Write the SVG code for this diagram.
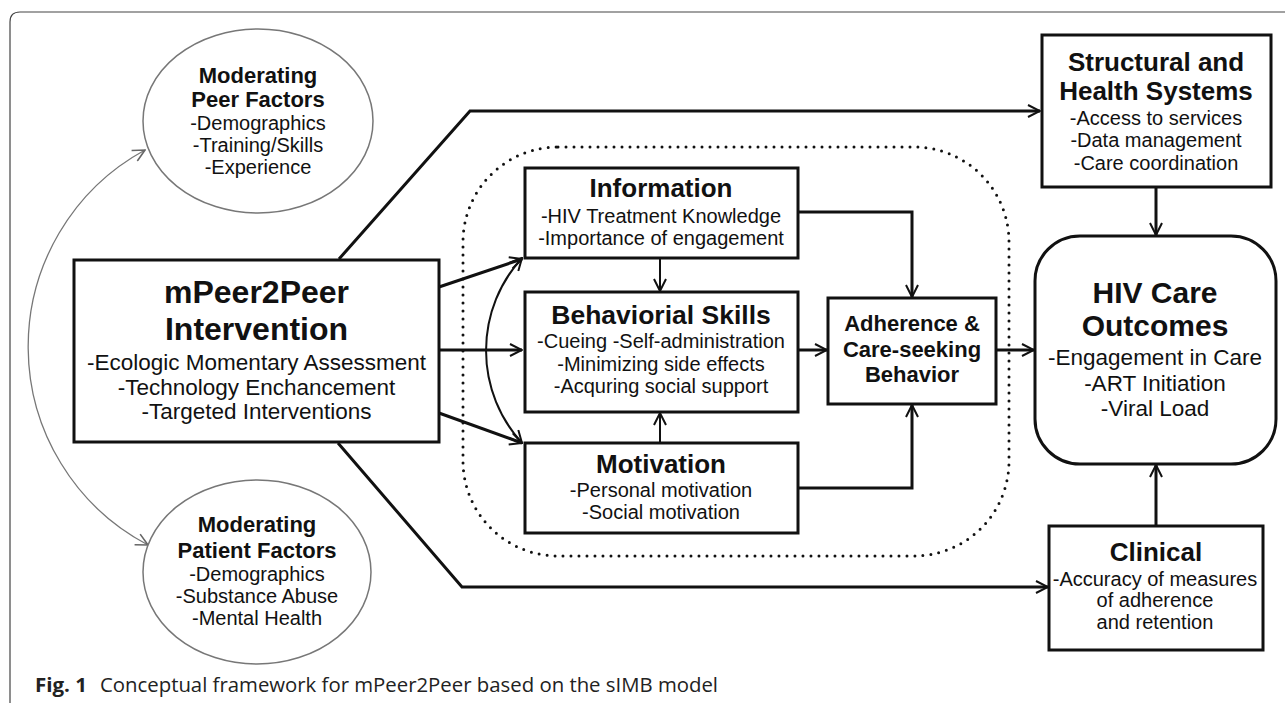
<svg xmlns="http://www.w3.org/2000/svg" width="1285" height="703" viewBox="0 0 1285 703">
<style>
text{font-family:"Liberation Sans",Arial,sans-serif;text-anchor:middle;fill:#111}
.b{font-weight:bold}
.box{fill:#fff;stroke:#111;stroke-width:3}
.ell{fill:#fff;stroke:#777;stroke-width:1.5}
.ln{fill:none;stroke:#111;stroke-width:3}
.th{fill:none;stroke:#111;stroke-width:2}
.cap{font-family:"Open Sans","Noto Sans",sans-serif;text-anchor:start;fill:#222}
</style>
<defs>
<marker id="arr" viewBox="0 0 14 14" refX="13" refY="7" markerWidth="14" markerHeight="14" markerUnits="userSpaceOnUse" orient="auto-start-reverse">
<path d="M1,1 L13,7 L1,13" fill="none" stroke="#111" stroke-width="2"/>
</marker>
<marker id="arrg" viewBox="0 0 14 14" refX="13" refY="7" markerWidth="14" markerHeight="14" markerUnits="userSpaceOnUse" orient="auto-start-reverse">
<path d="M1,1 L13,7 L1,13" fill="none" stroke="#666" stroke-width="1.6"/>
</marker>
</defs>
<rect width="1285" height="703" fill="#fff"/>
<path d="M10,703 L10,22 Q10,12 20,12 L1285,12" fill="none" stroke="#444" stroke-width="1.2"/>

<g id="connectors">
<path d="M145,150 A224,224 0 0 0 148,545" fill="none" stroke="#777" stroke-width="1.3" marker-start="url(#arrg)" marker-end="url(#arrg)"/>
<path d="M522,258 A137,137 0 0 0 522,443" class="th" marker-start="url(#arr)" marker-end="url(#arr)"/>
<path d="M339,259 L470,111 L1040,111" class="ln" marker-end="url(#arr)"/>
<path d="M338,443 L462,587 L1048,587" class="ln" marker-end="url(#arr)"/>
<path d="M439,287 L522,259" class="ln" marker-end="url(#arr)"/>
<path d="M439,350 L522,350" class="ln" marker-end="url(#arr)"/>
<path d="M439,413 L522,443" class="ln" marker-end="url(#arr)"/>
<path d="M660,258 L660,291" class="th" marker-end="url(#arr)"/>
<path d="M660,443 L660,413" class="th" marker-end="url(#arr)"/>
<path d="M798,212 L912,212 L912,297" class="ln" marker-end="url(#arr)"/>
<path d="M798,488 L912,488 L912,405" class="ln" marker-end="url(#arr)"/>
<path d="M798,350 L827,350" class="ln" marker-end="url(#arr)"/>
<path d="M996,350 L1034,350" class="ln" marker-end="url(#arr)"/>
<path d="M1156,187 L1156,235" class="ln" marker-end="url(#arr)"/>
<path d="M1156,526 L1156,465" class="ln" marker-end="url(#arr)"/>
</g>

<g id="iframe">
<rect x="463" y="147" width="546" height="409" rx="95" fill="none" stroke="#111" stroke-width="3" stroke-dasharray="0 8" stroke-linecap="round"/>
</g>

<g id="peer">
<ellipse cx="258" cy="121" rx="115" ry="92" class="ell"/>
<text x="258" y="83" class="b" font-size="22">Moderating</text>
<text x="258" y="107" class="b" font-size="22">Peer Factors</text>
<text x="258" y="130" font-size="20">-Demographics</text>
<text x="258" y="152" font-size="20">-Training/Skills</text>
<text x="258" y="174" font-size="20">-Experience</text>
</g>

<g id="patient">
<ellipse cx="257" cy="572" rx="114" ry="92" class="ell"/>
<text x="257" y="532" class="b" font-size="22">Moderating</text>
<text x="257" y="558" class="b" font-size="22">Patient Factors</text>
<text x="257" y="581" font-size="20">-Demographics</text>
<text x="257" y="603" font-size="20">-Substance Abuse</text>
<text x="257" y="625" font-size="20">-Mental Health</text>
</g>

<g id="mpeer">
<rect x="74" y="260" width="365" height="182" class="box"/>
<text x="256.5" y="303" class="b" font-size="32">mPeer2Peer</text>
<text x="256.5" y="340" class="b" font-size="32">Intervention</text>
<text x="256.5" y="370" font-size="22.5">-Ecologic Momentary Assessment</text>
<text x="256.5" y="395" font-size="22.5">-Technology Enchancement</text>
<text x="256.5" y="419" font-size="22.5">-Targeted Interventions</text>
</g>

<g id="information">
<rect x="525" y="168" width="273" height="90" class="box"/>
<text x="661" y="197" class="b" font-size="26">Information</text>
<text x="661" y="223" font-size="20">-HIV Treatment Knowledge</text>
<text x="661" y="245" font-size="20">-Importance of engagement</text>
</g>

<g id="behavioral">
<rect x="525" y="292" width="273" height="120" class="box"/>
<text x="661" y="324" class="b" font-size="26.5">Behaviorial Skills</text>
<text x="661" y="348" font-size="20">-Cueing -Self-administration</text>
<text x="661" y="371" font-size="20">-Minimizing side effects</text>
<text x="661" y="393" font-size="20">-Acquring social support</text>
</g>

<g id="motivation">
<rect x="525" y="443" width="273" height="90" class="box"/>
<text x="661" y="473" class="b" font-size="26">Motivation</text>
<text x="661" y="497" font-size="20">-Personal motivation</text>
<text x="661" y="519" font-size="20">-Social motivation</text>
</g>

<g id="adherence">
<rect x="828" y="298" width="168" height="106" class="box"/>
<text x="912" y="331" class="b" font-size="22">Adherence &amp;</text>
<text x="912" y="357" class="b" font-size="22">Care-seeking</text>
<text x="912" y="382" class="b" font-size="22">Behavior</text>
</g>

<g id="structural">
<rect x="1042" y="35" width="229" height="152" class="box"/>
<text x="1156" y="71" class="b" font-size="26">Structural and</text>
<text x="1156" y="100" class="b" font-size="26">Health Systems</text>
<text x="1156" y="125" font-size="20">-Access to services</text>
<text x="1156" y="147" font-size="20">-Data management</text>
<text x="1156" y="170" font-size="20">-Care coordination</text>
</g>

<g id="outcomes">
<rect x="1035" y="236" width="241" height="228" rx="45" class="box"/>
<text x="1155" y="303" class="b" font-size="30">HIV Care</text>
<text x="1155" y="336" class="b" font-size="30">Outcomes</text>
<text x="1155" y="365" font-size="22.5">-Engagement in Care</text>
<text x="1155" y="391" font-size="22.5">-ART Initiation</text>
<text x="1155" y="416" font-size="22.5">-Viral Load</text>
</g>

<g id="clinical">
<rect x="1049" y="526" width="214" height="124" class="box"/>
<text x="1156" y="561" class="b" font-size="26">Clinical</text>
<text x="1155" y="586" font-size="20">-Accuracy of measures</text>
<text x="1155" y="607" font-size="20">of adherence</text>
<text x="1155" y="629" font-size="20">and retention</text>
</g>

<g id="caption">
<text x="35" y="692" class="cap" font-weight="bold" font-size="20" textLength="52" lengthAdjust="spacingAndGlyphs">Fig. 1</text>
<text x="100" y="692" class="cap" font-size="20" textLength="618" lengthAdjust="spacingAndGlyphs">Conceptual framework for mPeer2Peer based on the sIMB model</text>
</g>
</svg>
